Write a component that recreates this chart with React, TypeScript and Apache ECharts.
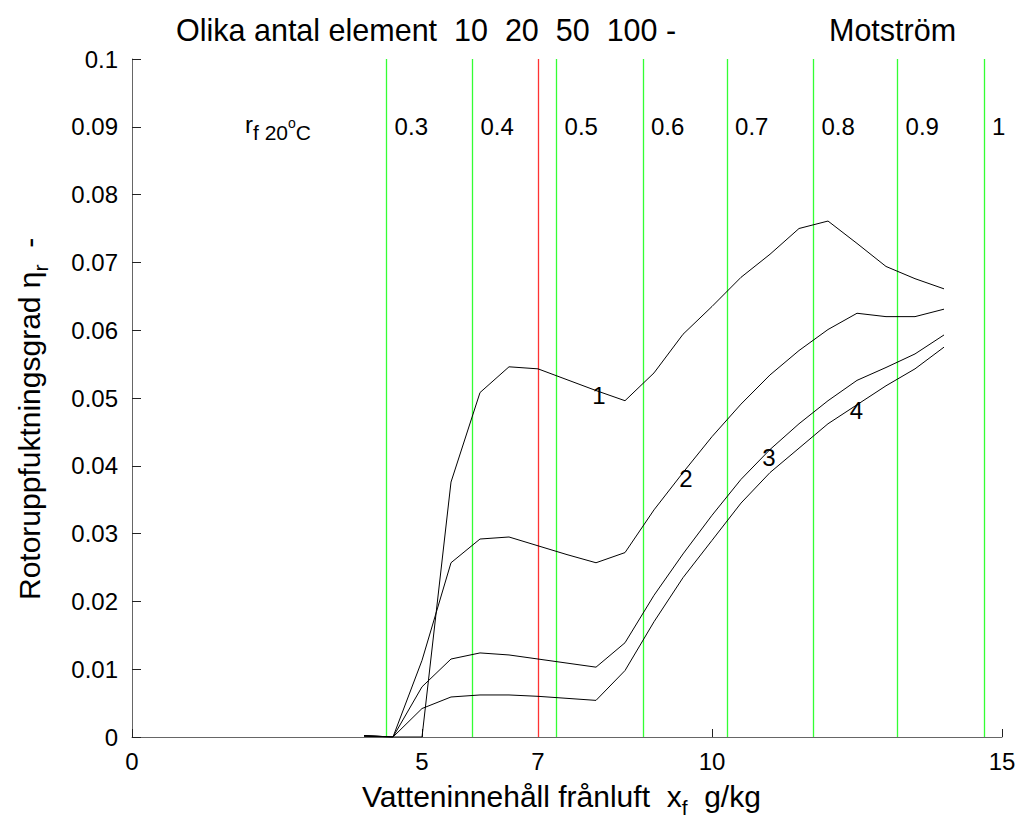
import React, { useEffect, useRef } from "react";
import * as echarts from "echarts";

// x: Vatteninnehåll frånluft (g/kg)
const xGrid = [4, 4.5, 5, 5.5, 6, 6.5, 7, 7.5, 8, 8.5, 9, 9.5, 10, 10.5, 11, 11.5, 12, 12.5, 13, 13.5, 14];
const eta1 = [0.0001, 0, 0, 0.0376, 0.0508, 0.0546, 0.0543, 0.0527, 0.0511, 0.0496, 0.0537, 0.0594, 0.0635, 0.0678, 0.0712, 0.075, 0.0761, 0.0728, 0.0694, 0.0676, 0.0661];
const eta2 = [0.0002, 0, 0.0113, 0.0257, 0.0292, 0.0295, 0.0282, 0.0269, 0.0257, 0.0272, 0.0335, 0.039, 0.0443, 0.0491, 0.0534, 0.057, 0.0601, 0.0625, 0.062, 0.062, 0.0631];
const eta3 = [0.0002, 0, 0.0074, 0.0115, 0.0124, 0.0121, 0.0115, 0.0109, 0.0103, 0.0139, 0.0209, 0.027, 0.0327, 0.038, 0.0424, 0.0462, 0.0496, 0.0526, 0.0545, 0.0565, 0.0593];
const eta4 = [0.0002, 0, 0.0042, 0.0059, 0.0062, 0.0062, 0.006, 0.0057, 0.0054, 0.0098, 0.017, 0.0235, 0.029, 0.0345, 0.039, 0.0426, 0.0462, 0.049, 0.0518, 0.0543, 0.0575];

// relative humidity lines r_f at 20°C
const rhNames = ["0.3", "0.4", "0.5", "0.6", "0.7", "0.8", "0.9", "1"];
const rhX = [4.39, 5.87, 7.32, 8.81, 10.26, 11.75, 13.2, 14.69];
const rhLabelY = 0.09;
const refLineX = 7;

// curve number labels
const curveNames = ["1", "2", "3", "4"];
const curveLabelX = [8.05, 9.55, 10.98, 12.49];
const curveLabelY = [0.0504, 0.0381, 0.0412, 0.0482];

const xLabelValues = [0, 5, 7, 10, 15];
const xTickValues = [0, 5, 10, 15];

const FONT = "Liberation Sans, Arial, Helvetica, sans-serif";

export default function App() {
  const ref = useRef<HTMLDivElement>(null);
  useEffect(() => {
    if (!ref.current) return;
    const chart = echarts.init(ref.current, null, { renderer: "svg" });
    const curves = [eta1, eta2, eta3, eta4];
    const option: any = {
      animation: false,
      backgroundColor: "#ffffff",
      textStyle: { fontFamily: FONT },
      grid: { left: 132, top: 59, width: 870, height: 678 },
      xAxis: {
        type: "value",
        min: 0,
        max: 15,
        splitLine: { show: false },
        axisLine: { show: true, onZero: false, lineStyle: { color: "#666", width: 1 } },
        axisTick: { show: true, inside: true, length: 8, customValues: xTickValues, lineStyle: { color: "#222" } },
        axisLabel: { customValues: xLabelValues, fontSize: 24, color: "#000", margin: 12, fontFamily: FONT },
      },
      yAxis: {
        type: "value",
        min: 0,
        max: 0.1,
        interval: 0.01,
        splitLine: { show: false },
        axisLine: { show: true, lineStyle: { color: "#666", width: 1 } },
        axisTick: { show: true, inside: true, length: 9, lineStyle: { color: "#222" } },
        axisLabel: {
          fontSize: 24,
          color: "#000",
          margin: 14,
          fontFamily: FONT,
          formatter: (v: number) => String(Math.round(v * 100) / 100),
        },
      },
      series: [
        ...curves.map((c, i) => ({
          type: "line",
          name: "curve" + (i + 1),
          data: xGrid.map((x, j) => [x, c[j]]),
          showSymbol: false,
          symbol: "none",
          lineStyle: { color: "#000", width: 1 },
          z: 5,
        })),
        {
          type: "scatter",
          name: "rh",
          data: rhX.map((x) => [x, rhLabelY]),
          symbolSize: 0,
          itemStyle: { opacity: 1, color: "#000" },
          label: {
            show: true,
            position: "right",
            distance: 8,
            fontSize: 24,
            color: "#000",
            fontFamily: FONT,
            formatter: (p: any) => rhNames[p.dataIndex],
          },
          markLine: {
            silent: true,
            symbol: "none",
            label: { show: false },
            lineStyle: { type: "solid", width: 1.3 },
            data: [
              ...rhX.map((x) => ({ xAxis: x, lineStyle: { color: "#33ff33", type: "solid", width: 1.3 } })),
              { xAxis: refLineX, lineStyle: { color: "#ff3333", type: "solid", width: 1.3 } },
            ],
          },
          z: 2,
        },
        {
          type: "scatter",
          name: "curveLabels",
          data: curveLabelX.map((x, i) => [x, curveLabelY[i]]),
          symbolSize: 0,
          itemStyle: { opacity: 1, color: "#000" },
          label: {
            show: true,
            position: "inside",
            fontSize: 24,
            color: "#000",
            fontFamily: FONT,
            formatter: (p: any) => curveNames[p.dataIndex],
          },
          z: 6,
        },
      ],
      graphic: [
        {
          type: "text",
          left: 176,
          top: 14,
          style: {
            text: "Olika antal element  10  20  50  100 -",
            fontSize: 30.5,
            fontFamily: FONT,
            fill: "#000",
          },
        },
        {
          type: "text",
          left: 829,
          top: 14,
          style: { text: "Motström", fontSize: 30.5, fontFamily: FONT, fill: "#000" },
        },
        {
          type: "text",
          left: 245,
          top: 112,
          style: {
            text: "{a|r}{s|f 20}{o|o}{s|C}",
            fontFamily: FONT,
            fill: "#000",
            rich: {
              a: { fontSize: 24, fontFamily: FONT, verticalAlign: "top", lineHeight: 24 },
              s: { fontSize: 21, fontFamily: FONT, verticalAlign: "top", lineHeight: 21, padding: [10, 0, 0, 0] },
              o: { fontSize: 14, fontFamily: FONT, verticalAlign: "top", lineHeight: 14, padding: [4, 0, 0, 0] },
            },
          },
        },
        {
          type: "text",
          left: 362,
          top: 781,
          style: {
            text: "{a|Vatteninnehåll frånluft  x}{s|f}{a|  g/kg}",
            fontFamily: FONT,
            fill: "#000",
            rich: {
              a: { fontSize: 30, fontFamily: FONT, verticalAlign: "top", lineHeight: 30 },
              s: { fontSize: 21, fontFamily: FONT, verticalAlign: "top", lineHeight: 21, padding: [16, 0, 0, 0] },
            },
          },
        },
        {
          type: "text",
          x: 14,
          y: 600,
          rotation: Math.PI / 2,
          style: {
            text: "{a|Rotoruppfuktningsgrad η}{s|r}{a|  -}",
            fontFamily: FONT,
            fill: "#000",
            rich: {
              a: { fontSize: 30, fontFamily: FONT, verticalAlign: "top", lineHeight: 30 },
              s: { fontSize: 21, fontFamily: FONT, verticalAlign: "top", lineHeight: 21, padding: [16, 0, 0, 0] },
            },
          },
        },
      ],
    };
    chart.setOption(option);
    return () => chart.dispose();
  }, []);
  return (
    <div
      ref={ref}
      style={{ position: "fixed", left: 0, top: 0, width: 1019, height: 824, background: "#fff" }}
    />
  );
}
